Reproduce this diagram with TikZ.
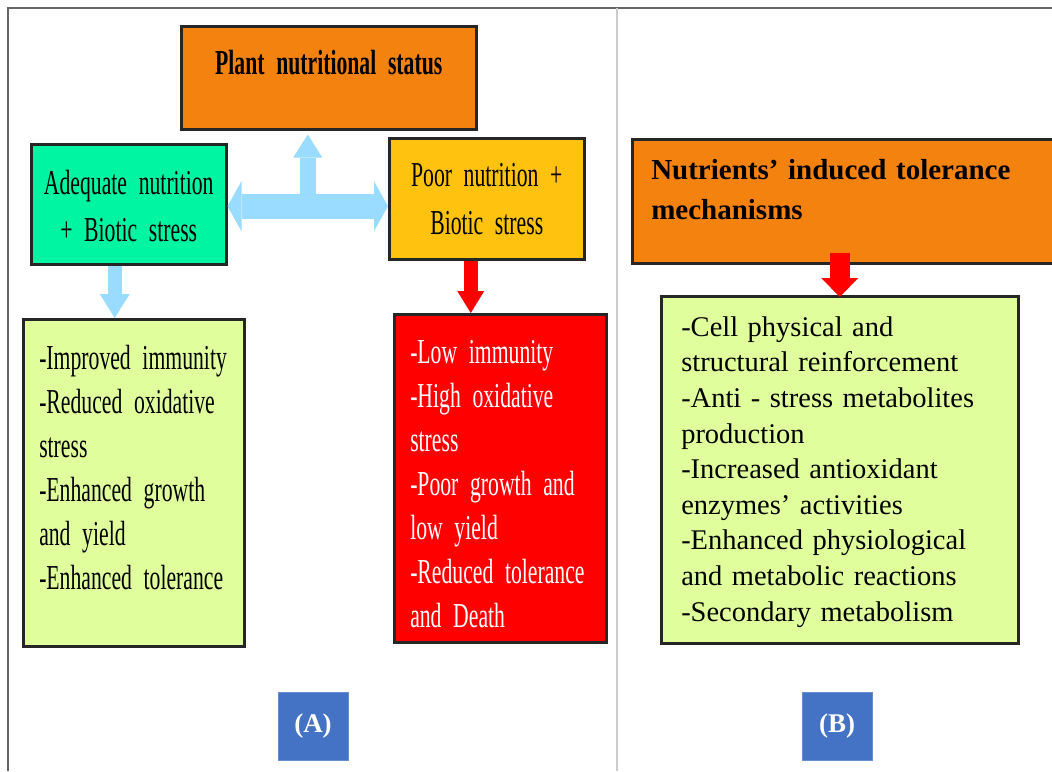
\documentclass[tikz,border=0pt]{standalone}
\usepackage{fontspec}
\setmainfont{Liberation Serif}
\newfontfamily\narrowserif[FakeStretch=0.62]{Liberation Serif}
\usepackage{tikz}
\usetikzlibrary{arrows.meta,positioning,calc}
\definecolor{statusorange}{HTML}{F4820F}
\definecolor{goodteal}{HTML}{00F5A3}
\definecolor{poorgold}{HTML}{FFC20E}
\definecolor{listlime}{HTML}{E0FF9C}
\definecolor{badred}{HTML}{FF0000}
\definecolor{skyarrow}{HTML}{99DCFF}
\definecolor{labelblue}{HTML}{4472C4}
\newcommand\narrowsize[1]{\narrowserif\fontsize{35}{#1}\selectfont\fontdimen2\font=5.4pt\relax}

\begin{document}
\begin{tikzpicture}[x=1pt,y=-1pt,
    box/.style={draw=black!85, line width=2.5pt, inner sep=0pt, anchor=north west},
    narrowtext/.style={font=\narrowsize{#1}},
    skyflow/.style={draw=skyarrow, line width=#1},
    redflow/.style={draw=badred, line width=#1},
    tag/.style={fill=labelblue, draw=labelblue!80!white, line width=1pt, minimum width=70pt,
      minimum height=68pt, inner sep=0pt, text=white, font=\bfseries\fontsize{27}{30}\selectfont}]
  \fill[white] (0,0) rectangle (1052,771);
  \useasboundingbox (0,0) rectangle (1052,771);
  % frame and divider
  \draw[gray!80!black, line width=1.2pt] (8,771) -- (8,8) -- (1052,8);
  \draw[black!20, line width=1.5pt] (617,8) -- (617,771);

  % panel A
  \node[box, fill=statusorange, text width=295pt, align=center, text height=48pt, text depth=55pt,
    font=\bfseries\narrowsize{44}] (status) at (180,25) {Plant nutritional status};
  \node[box, fill=goodteal, text width=195pt, align=center, text height=50pt, text depth=70pt,
    narrowtext=47] (adequate) at (30,143) {Adequate nutrition\\+ Biotic stress};
  \node[box, fill=poorgold, text width=195pt, align=center, text height=48pt, text depth=73pt,
    narrowtext=48] (poor) at (388,137) {Poor nutrition +\\Biotic stress};
  \node[box, fill=listlime, inner xsep=16pt, text width=189pt, align=left, text height=50pt, text depth=277pt,
    narrowtext=44] (goodlist) at (22,318) {-Improved immunity\\-Reduced oxidative\\stress\\-Enhanced growth\\and yield\\-Enhanced tolerance};
  \node[box, fill=badred, text=white, inner xsep=16pt, text width=180pt, align=left, text height=49pt, text depth=279pt,
    narrowtext=44] (badlist) at (393,313) {-Low immunity\\-High oxidative\\stress\\-Poor growth and\\low yield\\-Reduced tolerance\\and Death};

  \coordinate (fork) at ($(adequate.east)!0.5!(adequate.east -| poor.west)$);
  \draw[skyflow=16pt, -{Triangle[width=29pt,length=23pt,line width=0pt]}] (fork) -- ([yshift=-4pt]fork |- status.south);
  \draw[skyflow=25pt, {Triangle[width=50pt,length=14pt,line width=0pt]}-{Triangle[width=50pt,length=14pt,line width=0pt]}]
    ([yshift=-2pt]adequate.east) -- ([yshift=-2pt]adequate.east -| poor.west);
  \draw[skyflow=14pt, -{Triangle[width=30pt,length=24pt,line width=0pt]}]
    ([xshift=-14pt]adequate.south) -- ([xshift=-14pt]adequate.south |- goodlist.north);
  \draw[redflow=14pt, -{Triangle[width=27pt,length=22pt,line width=0pt]}]
    ([xshift=-16pt]poor.south) -- ([xshift=-16pt]poor.south |- badlist.north);

  \node[tag] (taga) at (313,726) {(A)};

  % panel B
  \node[box, fill=statusorange, inner xsep=19pt, text width=402pt, align=left, text height=40pt, text depth=84pt,
    font=\bfseries\fontsize{29}{40}\selectfont] (mech) at (631,138) {Nutrients’ induced tolerance\\mechanisms};
  \node[box, fill=listlime, inner xsep=20pt, text width=317pt, align=left, text height=40pt, text depth=307pt,
    font=\fontsize{28.5}{35.6}\selectfont] (mechlist) at (660,295) {-Cell physical and\\structural reinforcement\\-Anti - stress metabolites\\production\\-Increased antioxidant\\enzymes’ activities\\-Enhanced physiological\\and metabolic reactions\\-Secondary metabolism};
  \draw[redflow=20pt, -{Triangle[width=37pt,length=19pt,line width=0pt]}]
    ([yshift=12pt]mechlist.north |- mech.south) -- ([yshift=-2pt]mechlist.north);

  \node[tag] (tagb) at (837,726) {(B)};
\end{tikzpicture}
\end{document}
